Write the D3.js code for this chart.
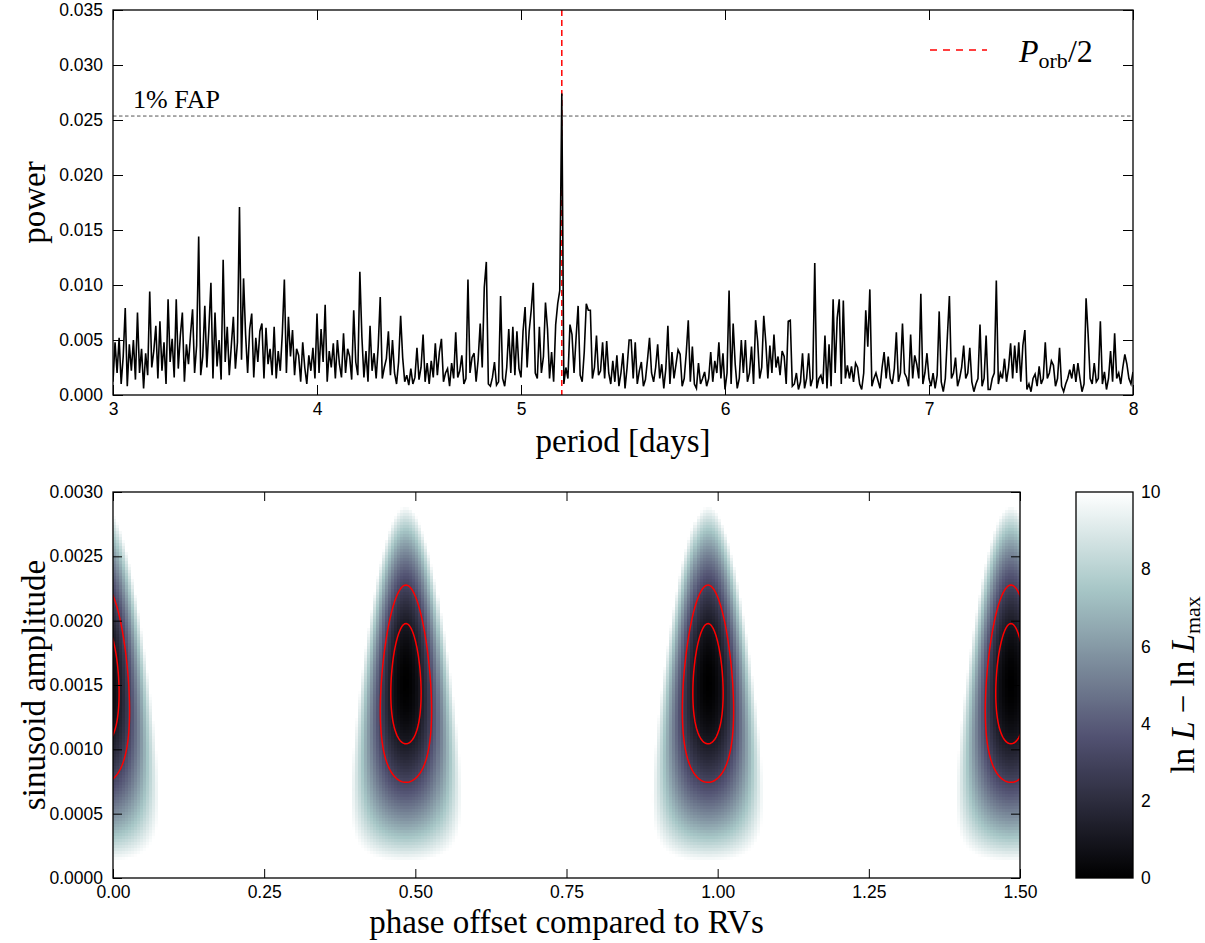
<!DOCTYPE html>
<html><head><meta charset="utf-8">
<script src="https://cdn.jsdelivr.net/npm/d3@7"></script>
<style>body{margin:0;background:#fff}</style>
</head><body><svg id="chart" width="1205" height="943" xmlns="http://www.w3.org/2000/svg"></svg>
<script>
// ---------------- DATA ----------------
// Top panel: periodogram power (units of 1e-3), one value every 0.01 day from 3.00 to 8.00 d
const periodStart = 3.0;
const periodStep = 0.01;
const power = [
1.2,4.8,2.0,5.2,1.0,3.5,7.9,0.8,4.6,2.2,
5.0,1.4,7.5,2.0,4.2,0.6,3.8,1.8,9.4,2.5,
4.0,6.3,1.5,6.7,2.2,4.8,1.0,8.7,3.0,5.1,
1.6,8.7,2.4,5.4,7.5,1.2,4.6,2.8,5.5,7.8,
2.0,4.5,14.4,1.8,3.5,8.1,2.5,6.0,10.2,1.5,
7.5,2.6,5.0,1.4,12.3,3.0,6.2,1.8,4.5,7.1,
2.4,4.8,17.1,3.2,10.6,5.5,2.0,6.0,7.4,1.6,
5.2,3.0,5.8,6.5,1.5,6.1,2.8,4.2,1.8,6.2,
1.5,4.0,2.2,5.6,10.5,2.0,7.1,3.5,5.9,1.8,
4.2,3.6,1.2,4.8,2.5,1.0,3.6,2.2,4.3,1.5,
7.4,2.0,6.0,3.0,8.2,1.2,4.0,2.5,4.7,1.5,
5.0,2.8,1.6,5.6,2.0,4.2,3.5,1.4,7.7,3.0,
1.8,11.2,5.3,1.6,4.0,1.2,6.3,2.2,3.8,1.5,
4.4,8.9,1.5,2.5,3.3,5.8,1.8,5.0,2.0,1.0,
3.0,7.2,3.4,1.2,1.8,0.9,2.4,1.0,1.6,4.3,
1.4,2.5,5.5,1.2,2.9,1.0,3.1,1.6,4.7,1.8,
3.9,5.1,1.2,2.0,2.4,0.8,2.9,1.5,5.7,1.6,
2.2,3.6,1.0,1.5,10.5,2.0,3.4,3.8,1.2,3.2,
6.5,2.5,9.8,12.1,1.0,0.8,1.6,3.0,0.9,1.2,
9.0,1.5,0.8,2.5,6.0,2.0,6.2,1.8,5.8,2.4,
1.6,5.8,8.0,2.5,5.8,7.7,10.2,2.0,1.5,6.2,
2.0,3.5,8.4,6.0,1.5,3.9,1.2,6.4,8.3,9.5,
27.4,1.0,2.5,1.5,6.4,5.5,2.0,5.2,8.1,1.8,
1.2,3.9,8.3,7.7,7.7,1.5,2.5,5.4,1.8,2.2,
4.8,1.5,4.9,2.0,1.0,3.1,1.2,3.6,0.8,2.0,
3.8,0.6,2.5,5.0,5.0,1.5,4.8,1.0,2.2,3.0,
0.8,1.4,3.2,5.2,2.0,1.2,2.5,4.6,1.5,2.8,
0.6,2.4,6.3,1.0,3.9,1.5,2.8,4.1,3.7,0.8,
1.5,3.8,6.8,1.2,4.4,1.0,0.6,2.9,1.0,1.5,
2.1,0.8,1.5,3.9,1.2,3.1,2.0,4.8,1.5,3.8,
0.5,2.0,9.5,1.0,6.5,2.8,0.6,1.5,5.0,2.0,
5.0,1.2,2.0,4.4,1.0,6.8,4.9,1.5,2.5,7.2,
4.8,1.5,4.5,2.0,5.5,2.5,3.5,1.8,4.0,3.5,
1.0,6.7,6.8,0.8,1.0,2.0,0.5,1.2,3.8,0.6,
1.5,3.8,0.8,1.5,12.0,0.6,1.5,1.8,1.0,5.4,
0.6,4.6,0.8,8.7,2.0,7.0,8.7,1.0,8.6,1.5,
2.7,1.5,2.6,1.2,2.9,2.5,1.0,0.5,2.0,7.7,
4.4,9.6,0.8,1.5,2.0,1.3,0.6,2.5,3.9,1.5,
3.5,1.5,1.0,2.4,5.7,1.2,2.0,6.5,2.0,1.6,
0.8,5.5,1.5,3.6,2.8,1.5,9.2,1.0,2.0,3.8,
1.5,0.8,2.0,0.6,1.8,7.6,1.2,0.3,1.5,5.3,
9.0,1.5,2.0,3.4,0.8,1.5,2.5,4.5,1.5,2.0,
4.3,1.2,0.3,1.0,1.5,6.4,0.8,1.5,5.4,0.5,
0.5,1.5,2.0,10.4,1.0,2.0,1.5,3.3,1.2,2.5,
4.7,1.5,4.5,2.0,4.8,1.2,4.5,5.9,0.5,1.0,
0.3,1.5,1.9,0.8,2.6,1.0,1.5,4.8,1.5,2.0,
3.1,2.7,0.8,1.5,4.3,0.8,0.3,1.0,1.5,2.3,
1.5,2.8,1.2,2.9,1.5,0.3,1.0,8.8,5.5,1.5,
1.0,2.9,1.2,1.5,6.7,1.0,2.1,0.5,1.5,4.0,
1.2,5.6,1.5,2.0,1.0,2.5,3.7,2.8,1.5,1.0,
2.1
];
const fapLevel = 0.02536;
const porbHalf = 5.20;
const topXTicks = [3,4,5,6,7,8];
const topYTicks = [0,0.005,0.010,0.015,0.020,0.025,0.030,0.035];

// Bottom panel: lnLmax - lnL around one likelihood lobe
// rows: sinusoid amplitude 0.0000..0.0032 (step 0.0002); cols: |phase - lobe centre| 0..0.12 (step 0.02)
const lobeAmpStep = 0.0002;
const lobePhaseStep = 0.02;
const lobeGrid = [
[11.97,11.97,11.97,11.97,11.97,11.97,11.97],
[9.01,9.11,9.40,9.87,10.48,11.20,11.98],
[6.47,6.67,7.25,8.19,9.41,10.85,12.41],
[4.35,4.65,5.52,6.93,8.76,10.92,13.26],
[2.65,3.05,4.22,6.08,8.53,11.41,14.53],
[1.37,1.86,3.33,5.66,8.72,12.32,16.23],
[0.50,1.10,2.86,5.66,9.34,13.65,18.34],
[0.06,0.76,2.81,6.08,10.37,15.40,20.87],
[0.04,0.84,3.18,6.92,11.82,17.57,23.82],
[0.44,1.34,3.97,8.18,13.69,20.16,27.19],
[1.26,2.26,5.18,9.85,15.98,23.17,30.98],
[2.50,3.60,6.81,11.95,18.69,26.60,35.19],
[4.16,5.35,8.86,14.47,21.82,30.45,39.82],
[6.24,7.53,11.34,17.41,25.37,34.72,44.87],
[8.74,10.13,14.23,20.77,29.34,39.41,50.34],
[11.66,13.15,17.54,24.55,33.73,44.52,56.23],
[14.99,16.59,21.27,28.75,38.54,50.05,62.55]
];
const lobeCentres = [-0.015, 0.4845, 0.984, 1.485];
const contourLevels = [1.15, 3.09];
const botXTicks = [0,0.25,0.5,0.75,1.0,1.25,1.5];
const botYTicks = [0,0.0005,0.0010,0.0015,0.0020,0.0025,0.0030];
const cbTicks = [0,2,4,6,8,10];

// ---------------- LAYOUT ----------------
const svg = d3.select("#chart");
const SANS = "'Liberation Sans', Arial, sans-serif";
const SERIF = "'Liberation Serif', 'Times New Roman', serif";
const T = {l:113, r:1133, t:10, b:395};
const B = {l:113, r:1020, t:492, b:878};
const CB = {l:1076, r:1133, t:492, b:878};
const TICKFS = 17.5, LABFS = 33;

const xT = d3.scaleLinear([3,8],[T.l,T.r]);
const yT = d3.scaleLinear([0,0.035],[T.b,T.t]);
const xB = d3.scaleLinear([0,1.5],[B.l,B.r]);
const yB = d3.scaleLinear([0,0.003],[B.b,B.t]);
const yCB = d3.scaleLinear([0,10],[CB.b,CB.t]);

// bone colormap
const boneR=[[0,0],[0.746032,0.652778],[1,1]];
const boneG=[[0,0],[0.365079,0.319444],[0.746032,0.777778],[1,1]];
const boneB=[[0,0],[0.365079,0.444444],[1,1]];
function seg(tab,x){for(let i=1;i<tab.length;i++){if(x<=tab[i][0]){const a=tab[i-1],b=tab[i];return a[1]+(b[1]-a[1])*(x-a[0])/(b[0]-a[0]);}}return 1;}
function bone(x){x=Math.max(0,Math.min(1,x));return [seg(boneR,x),seg(boneG,x),seg(boneB,x)].map(v=>Math.round(v*255));}

function styleAxis(g,size){
  g.select(".domain").remove();
  g.selectAll(".tick line").attr("stroke","#000").attr("stroke-width",1);
  g.selectAll("text").attr("font-family",SANS).attr("font-size",size).attr("fill","#000");
}

// ---------------- TOP PANEL ----------------
const gT = svg.append("g");
gT.append("defs").append("clipPath").attr("id","clipT").append("rect")
  .attr("x",T.l).attr("y",T.t).attr("width",T.r-T.l).attr("height",T.b-T.t);

// red Porb/2 line (behind)
gT.append("line").attr("x1",xT(porbHalf)).attr("x2",xT(porbHalf)).attr("y1",T.t).attr("y2",T.b)
  .attr("stroke","#ff0000").attr("stroke-width",1.5).attr("stroke-dasharray","6,4");
// FAP line
gT.append("line").attr("x1",T.l).attr("x2",T.r).attr("y1",yT(fapLevel)).attr("y2",yT(fapLevel))
  .attr("stroke","#555").attr("stroke-width",1).attr("stroke-dasharray","3.5,2.5");
gT.append("text").attr("x",133).attr("y",108).attr("font-family",SERIF).attr("font-size",26)
  .text("1% FAP");

const line = d3.line().x((d,i)=>xT(periodStart+i*periodStep)).y(d=>yT(d/1000));
gT.append("path").datum(power).attr("d",line).attr("fill","none").attr("stroke","#000")
  .attr("stroke-width",1.6).attr("stroke-linejoin","miter").attr("clip-path","url(#clipT)");

// axes
gT.append("g").attr("transform",`translate(0,${T.b})`)
  .call(d3.axisBottom(xT).tickValues(topXTicks).tickFormat(d3.format("d")).tickSizeInner(-10).tickSizeOuter(0).tickPadding(8))
  .call(g=>styleAxis(g,TICKFS));
gT.append("g").attr("transform",`translate(0,${T.t})`)
  .call(d3.axisTop(xT).tickValues(topXTicks).tickFormat("").tickSizeInner(-10).tickSizeOuter(0))
  .call(g=>styleAxis(g,TICKFS));
gT.append("g").attr("transform",`translate(${T.l},0)`)
  .call(d3.axisLeft(yT).tickValues(topYTicks).tickFormat(d3.format(".3f")).tickSizeInner(-10).tickSizeOuter(0).tickPadding(10))
  .call(g=>styleAxis(g,TICKFS));
gT.append("g").attr("transform",`translate(${T.r},0)`)
  .call(d3.axisRight(yT).tickValues(topYTicks).tickFormat("").tickSizeInner(-10).tickSizeOuter(0))
  .call(g=>styleAxis(g,TICKFS));
gT.append("rect").attr("x",T.l).attr("y",T.t).attr("width",T.r-T.l).attr("height",T.b-T.t)
  .attr("fill","none").attr("stroke","#000").attr("stroke-width",1.3);

// legend
gT.append("line").attr("x1",930).attr("x2",987).attr("y1",50).attr("y2",50)
  .attr("stroke","#ff0000").attr("stroke-width",1.5).attr("stroke-dasharray","7,6");
const lg = gT.append("text").attr("x",1019).attr("y",62).attr("font-family",SERIF).attr("font-size",32);
lg.append("tspan").attr("font-style","italic").text("P");
lg.append("tspan").attr("font-size",22).attr("dy",6).text("orb");
lg.append("tspan").attr("dy",-6).text("/2");

// labels
svg.append("text").attr("transform",`translate(45,${(T.t+T.b)/2}) rotate(-90)`).attr("text-anchor","middle")
  .attr("font-family",SERIF).attr("font-size",LABFS).text("power");
svg.append("text").attr("x",(T.l+T.r)/2).attr("y",452).attr("text-anchor","middle")
  .attr("font-family",SERIF).attr("font-size",LABFS).text("period [days]");

// ---------------- BOTTOM PANEL ----------------
function cr(p0,p1,p2,p3,t){return 0.5*((2*p1)+(-p0+p2)*t+(2*p0-5*p1+4*p2-p3)*t*t+(-p0+3*p1-3*p2+p3)*t*t*t);}
const NR = lobeGrid.length, NC = 2*(lobeGrid[0].length-1)+1, MID = lobeGrid[0].length-1;
function g(r,c){
  if(r<0) return 3*g(0,c)-3*g(1,c)+g(2,c);
  if(r>NR-1) return 3*g(NR-1,c)-3*g(NR-2,c)+g(NR-3,c);
  if(c<0) return 3*g(r,0)-3*g(r,1)+g(r,2);
  if(c>NC-1) return 3*g(r,NC-1)-3*g(r,NC-2)+g(r,NC-3);
  return lobeGrid[r][Math.abs(c-MID)];
}
function lobeValue(dphi,A){
  const fx=(dphi+MID*lobePhaseStep)/lobePhaseStep, fy=A/lobeAmpStep;
  if(fx<0||fx>NC-1) return 100;
  let i0=Math.min(Math.max(Math.floor(fy),0),NR-2), t=fy-i0;
  let j0=Math.min(Math.max(Math.floor(fx),0),NC-2), s=fx-j0;
  const cols=[];
  for(let c=j0-1;c<=j0+2;c++) cols.push(cr(g(i0-1,c),g(i0,c),g(i0+1,c),g(i0+2,c),t));
  return cr(cols[0],cols[1],cols[2],cols[3],s);
}
function surface(phase,A){
  let best=100;
  for(const c of lobeCentres){const d=phase-c; if(Math.abs(d)<0.2){best=Math.min(best,lobeValue(d,A));}}
  return best;
}

const gB = svg.append("g");
gB.append("defs").append("clipPath").attr("id","clipB").append("rect")
  .attr("x",B.l).attr("y",B.t).attr("width",B.r-B.l).attr("height",B.b-B.t);

// heatmap cells (pixelated image)
const nx=300, ny=128;
const cv=document.createElement("canvas"); cv.width=nx; cv.height=ny;
const ctx=cv.getContext("2d"); const img=ctx.createImageData(nx,ny);
for(let j=0;j<ny;j++){
  const A=0.003*(1-(j+0.5)/ny);
  for(let i=0;i<nx;i++){
    const ph=1.5*(i+0.5)/nx;
    const v=surface(ph,A);
    const k=4*(j*nx+i);
    if(v<10){const c=bone(v/10);img.data[k]=c[0];img.data[k+1]=c[1];img.data[k+2]=c[2];img.data[k+3]=255;}
    else {img.data[k]=255;img.data[k+1]=255;img.data[k+2]=255;img.data[k+3]=0;}
  }
}
ctx.putImageData(img,0,0);
gB.append("image").attr("href",cv.toDataURL()).attr("x",B.l).attr("y",B.t)
  .attr("width",B.r-B.l).attr("height",B.b-B.t).attr("preserveAspectRatio","none")
  .style("image-rendering","pixelated");

// contours
const p0=-0.1, dp=0.0025, cnx=Math.round(1.8/dp)+1;
const a0=0, da=0.00001, cny=Math.round(0.0031/da)+1;
const vals=new Array(cnx*cny);
for(let j=0;j<cny;j++) for(let i=0;i<cnx;i++) vals[j*cnx+i]=surface(p0+i*dp,a0+j*da);
const conts=d3.contours().size([cnx,cny]).thresholds(contourLevels)(vals);
const proj=d3.geoTransform({point(x,y){this.stream.point(xB(p0+(x-0.5)*dp),yB(a0+(y-0.5)*da));}});
const gpath=d3.geoPath(proj);
gB.append("g").attr("clip-path","url(#clipB)").selectAll("path").data(conts).join("path")
  .attr("d",gpath).attr("fill","none").attr("stroke","#ff0000").attr("stroke-width",1.5);

gB.append("g").attr("transform",`translate(0,${B.b})`)
  .call(d3.axisBottom(xB).tickValues(botXTicks).tickFormat(d3.format(".2f")).tickSizeInner(-9).tickSizeOuter(0).tickPadding(8))
  .call(g=>styleAxis(g,TICKFS));
gB.append("g").attr("transform",`translate(0,${B.t})`)
  .call(d3.axisTop(xB).tickValues(botXTicks).tickFormat("").tickSizeInner(-9).tickSizeOuter(0))
  .call(g=>styleAxis(g,TICKFS));
gB.append("g").attr("transform",`translate(${B.l},0)`)
  .call(d3.axisLeft(yB).tickValues(botYTicks).tickFormat(d3.format(".4f")).tickSizeInner(-9).tickSizeOuter(0).tickPadding(10))
  .call(g=>styleAxis(g,TICKFS));
gB.append("g").attr("transform",`translate(${B.r},0)`)
  .call(d3.axisRight(yB).tickValues(botYTicks).tickFormat("").tickSizeInner(-9).tickSizeOuter(0))
  .call(g=>styleAxis(g,TICKFS));
gB.append("rect").attr("x",B.l).attr("y",B.t).attr("width",B.r-B.l).attr("height",B.b-B.t)
  .attr("fill","none").attr("stroke","#000").attr("stroke-width",1.3);

svg.append("text").attr("transform",`translate(45,${(B.t+B.b)/2}) rotate(-90)`).attr("text-anchor","middle")
  .attr("font-family",SERIF).attr("font-size",LABFS).text("sinusoid amplitude");
svg.append("text").attr("x",(B.l+B.r)/2).attr("y",933).attr("text-anchor","middle")
  .attr("font-family",SERIF).attr("font-size",LABFS).text("phase offset compared to RVs");

// ---------------- COLORBAR ----------------
const defs = svg.append("defs");
const grad = defs.append("linearGradient").attr("id","cbgrad").attr("x1",0).attr("y1",1).attr("x2",0).attr("y2",0);
d3.range(0,1.0001,0.02).forEach(t=>{const c=bone(t);grad.append("stop").attr("offset",t).attr("stop-color",`rgb(${c[0]},${c[1]},${c[2]})`);});
svg.append("rect").attr("x",CB.l).attr("y",CB.t).attr("width",CB.r-CB.l).attr("height",CB.b-CB.t)
  .attr("fill","url(#cbgrad)").attr("stroke","#000").attr("stroke-width",1.3);
svg.append("g").attr("transform",`translate(${CB.r},0)`)
  .call(d3.axisRight(yCB).tickValues(cbTicks).tickFormat(d3.format("d")).tickSizeInner(0).tickSizeOuter(0).tickPadding(8))
  .call(g=>styleAxis(g,TICKFS));
const cbl = svg.append("text").attr("transform",`translate(1194,${(CB.t+CB.b)/2}) rotate(-90)`).attr("text-anchor","middle")
  .attr("font-family",SERIF).attr("font-size",LABFS);
cbl.append("tspan").text("ln ");
cbl.append("tspan").attr("font-style","italic").text("L");
cbl.append("tspan").text(" \u2212 ln ");
cbl.append("tspan").attr("font-style","italic").text("L");
cbl.append("tspan").attr("font-size",22).attr("dy",6).text("max");
</script></body></html>
